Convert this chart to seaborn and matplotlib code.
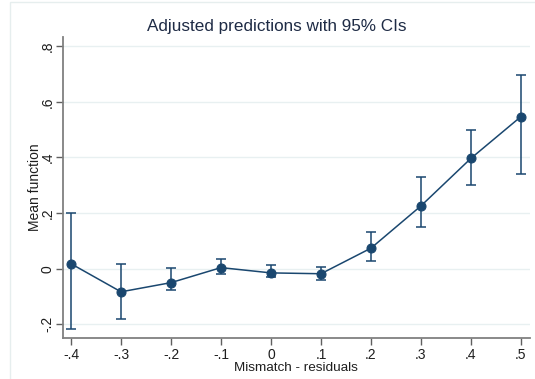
import matplotlib
matplotlib.use("Agg")
import matplotlib.pyplot as plt
from matplotlib.patches import Rectangle
import numpy as np
import pandas as pd
import seaborn as sns

# Margins of the mean function over the mismatch residual
mismatch = [-0.4, -0.3, -0.2, -0.1, 0.0, 0.1, 0.2, 0.3, 0.4, 0.5]
margin = [0.018, -0.083, -0.050, 0.004, -0.015, -0.018, 0.074, 0.226, 0.397, 0.547]
ci_low = [-0.218, -0.182, -0.078, -0.018, -0.031, -0.041, 0.029, 0.150, 0.300, 0.341]
ci_high = [0.199, 0.016, 0.001, 0.034, 0.012, 0.005, 0.132, 0.331, 0.499, 0.696]

x_ticks = [-0.4, -0.3, -0.2, -0.1, 0.0, 0.1, 0.2, 0.3, 0.4, 0.5]
x_labels = ["-.4", "-.3", "-.2", "-.1", "0", ".1", ".2", ".3", ".4", ".5"]
y_ticks = [-0.2, 0.0, 0.2, 0.4, 0.6, 0.8]
y_labels = ["-.2", "0", ".2", ".4", ".6", ".8"]

df = pd.DataFrame({"mismatch": mismatch, "margin": margin,
                   "lo": ci_low, "hi": ci_high})

sns.set_theme(style="white")
plt.rcParams["font.family"] = ["Liberation Sans", "DejaVu Sans"]

navy = "#1a476f"
text_col = "#1e1e1e"

fig = plt.figure(figsize=(5.35, 3.79), dpi=100)
fig.patch.set_facecolor("white")
# faint outer graph frame
fig.add_artist(Rectangle((10 / 535, -0.05), 1.2, (379 - 2) / 379 + 0.05,
                         transform=fig.transFigure, fill=False,
                         edgecolor="#e6eeee", linewidth=1.0))

ax = fig.add_axes([62.7 / 535, 41 / 379, (530 - 62.7) / 535, (338 - 37) / 379])

# confidence intervals
ax.errorbar(df["mismatch"], df["margin"],
            yerr=[df["margin"] - df["lo"], df["hi"] - df["margin"]],
            fmt="none", ecolor=navy, elinewidth=1.1, capsize=3.3,
            capthick=1.1, zorder=2)
# point estimates connected
sns.lineplot(data=df, x="mismatch", y="margin", ax=ax, color=navy,
             linewidth=1.1, marker="o", markersize=6.5,
             markeredgecolor=navy, markerfacecolor=navy, zorder=3)

ax.set_xlim(-0.4166, 0.518)
ax.set_ylim(-0.249, 0.833)

ax.set_yticks(y_ticks)
ax.set_yticklabels(y_labels, rotation=90, va="center", fontsize=10, color=text_col)
ax.set_xticks(x_ticks)
ax.set_xticklabels(x_labels, fontsize=10, color=text_col)

for y in y_ticks:
    ax.axhline(y, color="#e8f0f1", linewidth=1.0, zorder=0)

for side in ["top", "right"]:
    ax.spines[side].set_visible(False)
for side in ["left", "bottom"]:
    ax.spines[side].set_color("#808080")
    ax.spines[side].set_linewidth(1.3)

ax.tick_params(axis="both", which="major", direction="out", length=5,
               width=1.0, color="#606060", bottom=True, left=True)
ax.tick_params(axis="x", pad=2)
ax.tick_params(axis="y", pad=1)

ax.set_xlabel("Mismatch - residuals", fontsize=9.7, color=text_col, labelpad=0.5)
ax.set_ylabel("Mean function", fontsize=10, color=text_col, labelpad=-1)

fig.text(277 / 535, 1 - 26 / 379, "Adjusted predictions with 95% CIs",
         ha="center", va="center", fontsize=12.3, color="#1e2b45")

fig.savefig("out.png", dpi=100, facecolor="white")
